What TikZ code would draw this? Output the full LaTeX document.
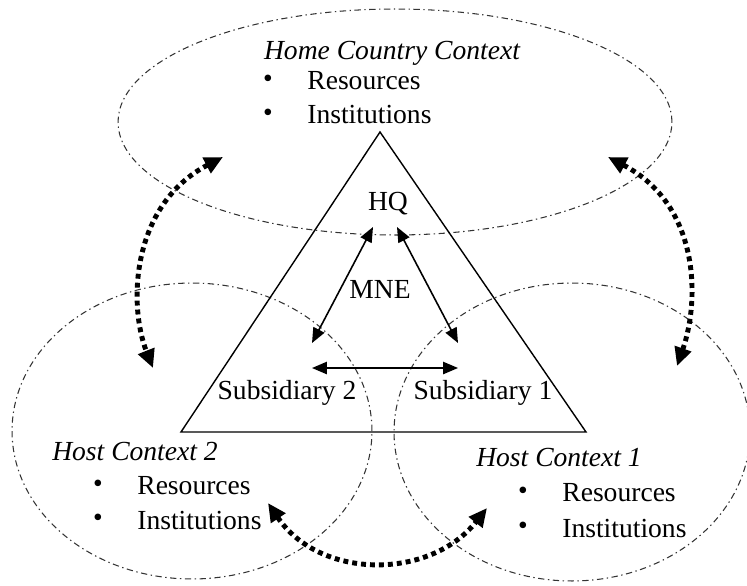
\documentclass[tikz,border=0pt]{standalone}
\usepackage{fontspec}
\setmainfont{Liberation Serif}
\usetikzlibrary{arrows.meta, positioning, shapes.geometric, calc}

\begin{document}
\begin{tikzpicture}[x=0.02cm, y=-0.02cm,
    context/.style={ellipse, draw=black!80, line width=0.6pt, inner sep=0pt,
      dash pattern=on 3.6pt off 2pt on 0.8pt off 2pt},
    txt/.style={font=\fontsize{15.7}{18}\selectfont, inner sep=0pt},
    ctxhead/.style={txt, font=\fontsize{15.7}{18}\selectfont\itshape},
    link/.style={line width=0.9pt,
      {Triangle[length=8.5pt,width=7pt]}-{Triangle[length=8.5pt,width=7pt]}},
    spill/.style={line width=2.8pt, dash pattern=on 2.8pt off 2.3pt,
      {Triangle[length=10.5pt,width=9.5pt]}-{Triangle[length=10.5pt,width=9.5pt]}}]
  \useasboundingbox (0,0) rectangle (747,585);
  \node[context, minimum width=11.08cm, minimum height=4.52cm] (home) at (395,122) {};
  \node[context, minimum width=7.2cm, minimum height=5.92cm] (host2) at (192,431) {};
  \node[context, minimum width=7.12cm, minimum height=5.96cm] (host1) at (572,432) {};
  \draw[line width=0.8pt] (380,132) -- (181,432) -- (586,432) -- cycle;
  \node[ctxhead] (homehead) at (392,53) {Home Country Context};
  \node[ctxhead] (host2head) at (135,451) {Host Context 2};
  \node[ctxhead] (host1head) at (559,457) {Host Context 1};
  \foreach \n/\bx/\by/\word in {homeres/268/81/Resources, homeinst/268/115/Institutions,
      host2res/98/486/Resources, host2inst/98/520/Institutions,
      host1res/523/493/Resources, host1inst/523/528/Institutions} {
    \node[txt] (\n dot) at (\bx,\by) {\textbullet};
    \node[txt, anchor=west] (\n) at (\bx+39,\by) {\word};
  }
  \node[txt] (hq) at (388,204) {HQ};
  \node[txt] (mne) at (380,289) {MNE};
  \node[txt] (sub2) at (287,393) {Subsidiary 2};
  \node[txt] (sub1) at (483,393) {Subsidiary 1};
  \coordinate (hqL) at (373,227);
  \coordinate (hqR) at (397,227);
  \coordinate (sub2top) at (312,343);
  \coordinate (sub1top) at (458,343);
  \coordinate (sub2side) at (312,368);
  \coordinate (sub1side) at (458,368);
  \draw[link] (hqL) -- (sub2top);
  \draw[link] (hqR) -- (sub1top);
  \draw[link] (sub2side) -- (sub1side);
  \coordinate (homeW) at (223,157);
  \coordinate (homeE) at (608,157);
  \coordinate (host2N) at (153,368);
  \coordinate (host1N) at (677,366);
  \coordinate (host2E) at (268,503);
  \coordinate (host1W) at (487,508);
  \draw[spill] (homeW) .. controls (131,205) and (128,305) .. (host2N);
  \draw[spill] (homeE) .. controls (700,205) and (700,300) .. (host1N);
  \draw[spill] (host2E) .. controls (320,580) and (430,580) .. (host1W);
\end{tikzpicture}
\end{document}
